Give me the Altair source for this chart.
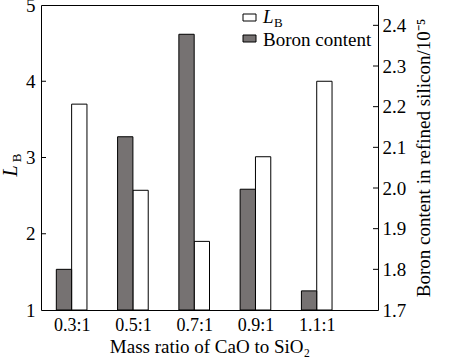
import altair as alt
import pandas as pd

ratios = [0.3, 0.5, 0.7, 0.9, 1.1]
lb_values = [3.70, 2.57, 1.90, 3.01, 4.00]
boron_values = [1.80, 2.126, 2.378, 1.997, 1.747]
left_ticks = [2, 3, 4]
right_ticks = [1.8, 1.9, 2.0, 2.1, 2.2, 2.3, 2.4]

df = pd.DataFrame({"ratio": ratios, "lb": lb_values, "boron": boron_values})
FONT = "Liberation Serif"
W, H = 337, 305
BARW = 0.05

xscale = alt.Scale(domain=[0.2, 1.3], nice=False, zero=False)
xaxis = alt.Axis(values=ratios, labelExpr="format(datum.value, '.1f') + ':1'",
                 ticks=False, domain=False, grid=False, labelFontSize=18, labelFont=FONT,
                 labelColor="black", labelPadding=6, title="Mass ratio of CaO to SiO₂",
                 titleFont=FONT, titleFontSize=19, titleFontWeight="normal",
                 titleColor="black", titlePadding=3)

yL = alt.Scale(domain=[1, 5], nice=False, zero=False)
yR = alt.Scale(domain=[1.7, 2.45], nice=False, zero=False)

base = alt.Chart(df)

bars_lb = base.mark_bar(fill="white", stroke="black", strokeWidth=1).transform_calculate(
    x0="datum.ratio", x1="datum.ratio + %f" % BARW
).encode(
    x=alt.X("x0:Q", scale=xscale, axis=xaxis),
    x2="x1:Q",
    y=alt.Y("lb:Q", scale=yL, axis=alt.Axis(orient="left", values=[1, 2, 3, 4, 5], format="d",
            ticks=False, domain=False, grid=False, labelFontSize=19, labelFont=FONT,
            labelColor="black", labelPadding=6, title=None)),
    y2=alt.value(H),
)

ticks_l = alt.Chart(pd.DataFrame({"t": left_ticks})).mark_rule(color="black", strokeWidth=1).encode(
    y=alt.Y("t:Q", scale=yL), x=alt.value(0), x2=alt.value(5)
)

bars_b = base.mark_bar(fill="#767272", stroke="black", strokeWidth=1).transform_calculate(
    x0="datum.ratio - %f" % BARW, x1="datum.ratio"
).encode(
    x=alt.X("x0:Q", scale=xscale, axis=xaxis),
    x2="x1:Q",
    y=alt.Y("boron:Q", scale=yR, axis=alt.Axis(orient="right", values=[1.7] + right_ticks, format=".1f",
            ticks=False, domain=False, grid=False, labelFontSize=19, labelFont=FONT,
            labelColor="black", labelPadding=4,
            title="Boron content in refined silicon/10⁻⁵", titleFont=FONT, titleFontSize=19,
            titleFontWeight="normal", titleColor="black", titlePadding=9, titleAngle=270,
            titleBaseline="top")),
    y2=alt.value(H),
)

ticks_r = alt.Chart(pd.DataFrame({"t": right_ticks})).mark_rule(color="black", strokeWidth=1).encode(
    y=alt.Y("t:Q", scale=yR), x=alt.value(W - 5), x2=alt.value(W)
)

one = alt.Data(values=[{}])
leg_w = alt.Chart(one).mark_rect(fill="white", stroke="black", strokeWidth=1).encode(
    x=alt.value(202), x2=alt.value(215), y=alt.value(9), y2=alt.value(16))
leg_g = alt.Chart(one).mark_rect(fill="#767272", stroke="black", strokeWidth=1).encode(
    x=alt.value(202), x2=alt.value(215), y=alt.value(30), y2=alt.value(37))
leg_t1 = alt.Chart(one).mark_text(text="L", font=FONT, fontSize=19, fontStyle="italic",
                                  align="left", baseline="alphabetic", color="black").encode(
    x=alt.value(222), y=alt.value(18))
leg_t1b = alt.Chart(one).mark_text(text="B", font=FONT, fontSize=13,
                                   align="left", baseline="alphabetic", color="black").encode(
    x=alt.value(233), y=alt.value(22))
leg_t2 = alt.Chart(one).mark_text(text="Boron content", font=FONT, fontSize=19,
                                  align="left", baseline="alphabetic", color="black").encode(
    x=alt.value(222), y=alt.value(41))

ytitle_l = alt.Chart(one).mark_text(text="L", font=FONT, fontSize=20, fontStyle="italic",
                                    align="center", baseline="alphabetic", angle=270, color="black").encode(
    x=alt.value(-24), y=alt.value(166))
ytitle_lb = alt.Chart(one).mark_text(text="B", font=FONT, fontSize=13,
                                     align="center", baseline="alphabetic", angle=270, color="black").encode(
    x=alt.value(-20), y=alt.value(153))

left = alt.layer(bars_lb, ticks_l)
right = alt.layer(bars_b, ticks_r)

chart = alt.layer(left, right, leg_w, leg_g, leg_t1, leg_t1b, leg_t2, ytitle_l, ytitle_lb).resolve_scale(
    y="independent"
).properties(
    width=W, height=H,
    autosize=alt.AutoSizeParams(type="none"),
    padding={"left": 41, "top": 5, "right": 72, "bottom": 47},
    background="white",
).configure_view(stroke="black", strokeWidth=1)

chart.save("out.html", embed_options={"renderer": "svg", "actions": False})
